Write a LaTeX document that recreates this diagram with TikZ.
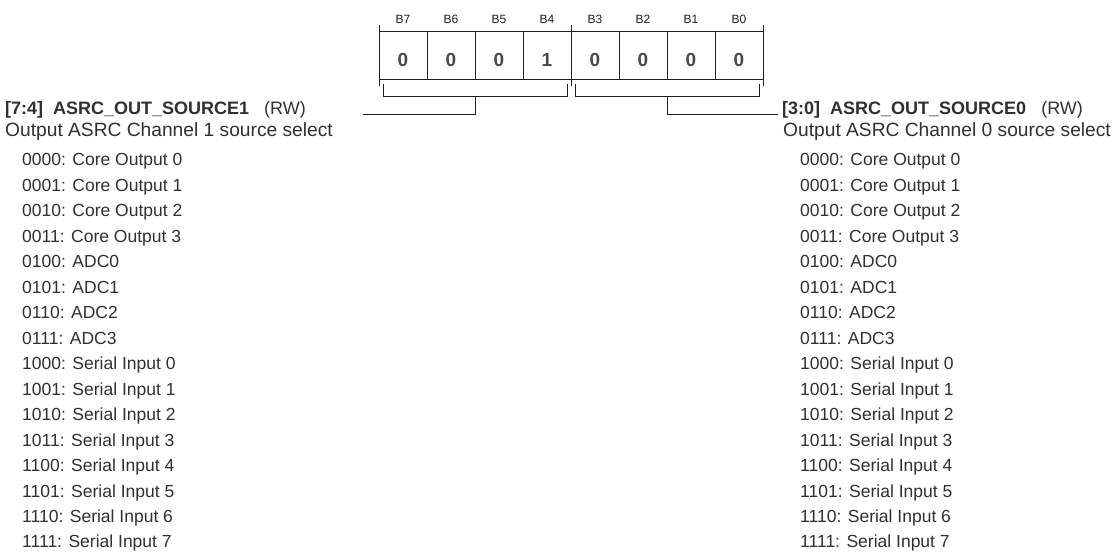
\documentclass[tikz,border=0pt]{standalone}
\usepackage{fontspec}
\setmainfont{Liberation Sans}
\usetikzlibrary{positioning,calc}
\definecolor{ink}{HTML}{1E1E1E}
\definecolor{txt}{HTML}{303030}
\definecolor{bitval}{HTML}{4A4A4A}
\newcommand{\srclist}{0000: Core Output 0\\0001: Core Output 1\\0010: Core Output 2\\0011: Core Output 3\\
  0100: ADC0\\0101: ADC1\\0110: ADC2\\0111: ADC3\\
  1000: Serial Input 0\\1001: Serial Input 1\\1010: Serial Input 2\\1011: Serial Input 3\\
  1100: Serial Input 4\\1101: Serial Input 5\\1110: Serial Input 6\\1111: Serial Input 7}

\begin{document}
\begin{tikzpicture}[x=1pt,y=-1pt,
  cell/.style={draw=ink,line width=1pt,outer sep=0pt,inner sep=0pt,minimum width=48pt,
               text height=35.1pt,text depth=12.5pt,text=bitval,font=\fontsize{19}{19}\selectfont\bfseries},
  bitlbl/.style={inner sep=0pt,outer sep=0pt,text=ink,font=\fontsize{12}{12}\selectfont},
  hdr/.style={anchor=base west,inner sep=0pt,text=txt,font=\fontsize{18}{18}\selectfont},
  desc/.style={hdr,font=\fontsize{19.2}{19.2}\selectfont},
  srcbox/.style={anchor=north west,inner sep=0pt,align=left,text=txt,font=\fontsize{17.5}{25.47}\selectfont},
  lead/.style={draw=ink,line width=1pt}]
  \useasboundingbox (0,0) rectangle (1118,555);
  % register cells
  \node[cell] (b7) at (403,55.5) {0};
  \node[cell,right=0pt of b7] (b6) {0};
  \node[cell,right=0pt of b6] (b5) {0};
  \node[cell,right=0pt of b5] (b4) {1};
  \node[cell,right=0pt of b4] (b3) {0};
  \node[cell,right=0pt of b3] (b2) {0};
  \node[cell,right=0pt of b2] (b1) {0};
  \node[cell,right=0pt of b1] (b0) {0};
  \node[bitlbl,above=8.4pt of b7] (lb7) {B7};
  \node[bitlbl,above=8.4pt of b6] (lb6) {B6};
  \node[bitlbl,above=8.4pt of b5] (lb5) {B5};
  \node[bitlbl,above=8.4pt of b4] (lb4) {B4};
  \node[bitlbl,above=8.4pt of b3] (lb3) {B3};
  \node[bitlbl,above=8.4pt of b2] (lb2) {B2};
  \node[bitlbl,above=8.4pt of b1] (lb1) {B1};
  \node[bitlbl,above=8.4pt of b0] (lb0) {B0};
  % field ticks and brackets
  \draw[lead] ($(b7.north west)+(0,-7)$) -- ($(b7.south west)+(0,7)$);
  \draw[lead] ($(b4.north east)+(0,-7)$) -- ($(b4.south east)+(0,7)$);
  \draw[lead] ($(b0.north east)+(0,-7)$) -- ($(b0.south east)+(0,7)$);
  \draw[lead] ($(b7.south west)+(4,5)$) -- ++(0,12) -- ($(b4.south east)+(-4,17)$) -- ++(0,-12);
  \draw[lead] ($(b3.south west)+(4,5)$) -- ++(0,12) -- ($(b0.south east)+(-4,17)$) -- ++(0,-12);
  \coordinate (brk1) at ($(b7.south west)!0.5!(b4.south east)+(0,17)$);
  \coordinate (brk0) at ($(b3.south west)!0.5!(b0.south east)+(0,17)$);
  % field descriptions
  \node[hdr] (hdr1) at (5,114) {\textbf{[7:4]\ \ ASRC\_OUT\_SOURCE1}\ \ \ (RW)};
  \node[desc] (desc1) at (5,136.5) {Output ASRC Channel 1 source select};
  \node[srcbox] (list1) at (22,153.5) {\srclist};
  \node[hdr] (hdr0) at (782,114) {\textbf{[3:0]\ \ ASRC\_OUT\_SOURCE0}\ \ \ (RW)};
  \node[desc] (desc0) at (783,136.5) {Output ASRC Channel 0 source select};
  \node[srcbox] (list0) at (800,153.5) {\srclist};
  \coordinate (lead1) at (363,114);
  \coordinate (lead0) at (778,114);
  \draw[lead] (brk1) |- (lead1);
  \draw[lead] (brk0) |- (lead0);
\end{tikzpicture}
\end{document}
